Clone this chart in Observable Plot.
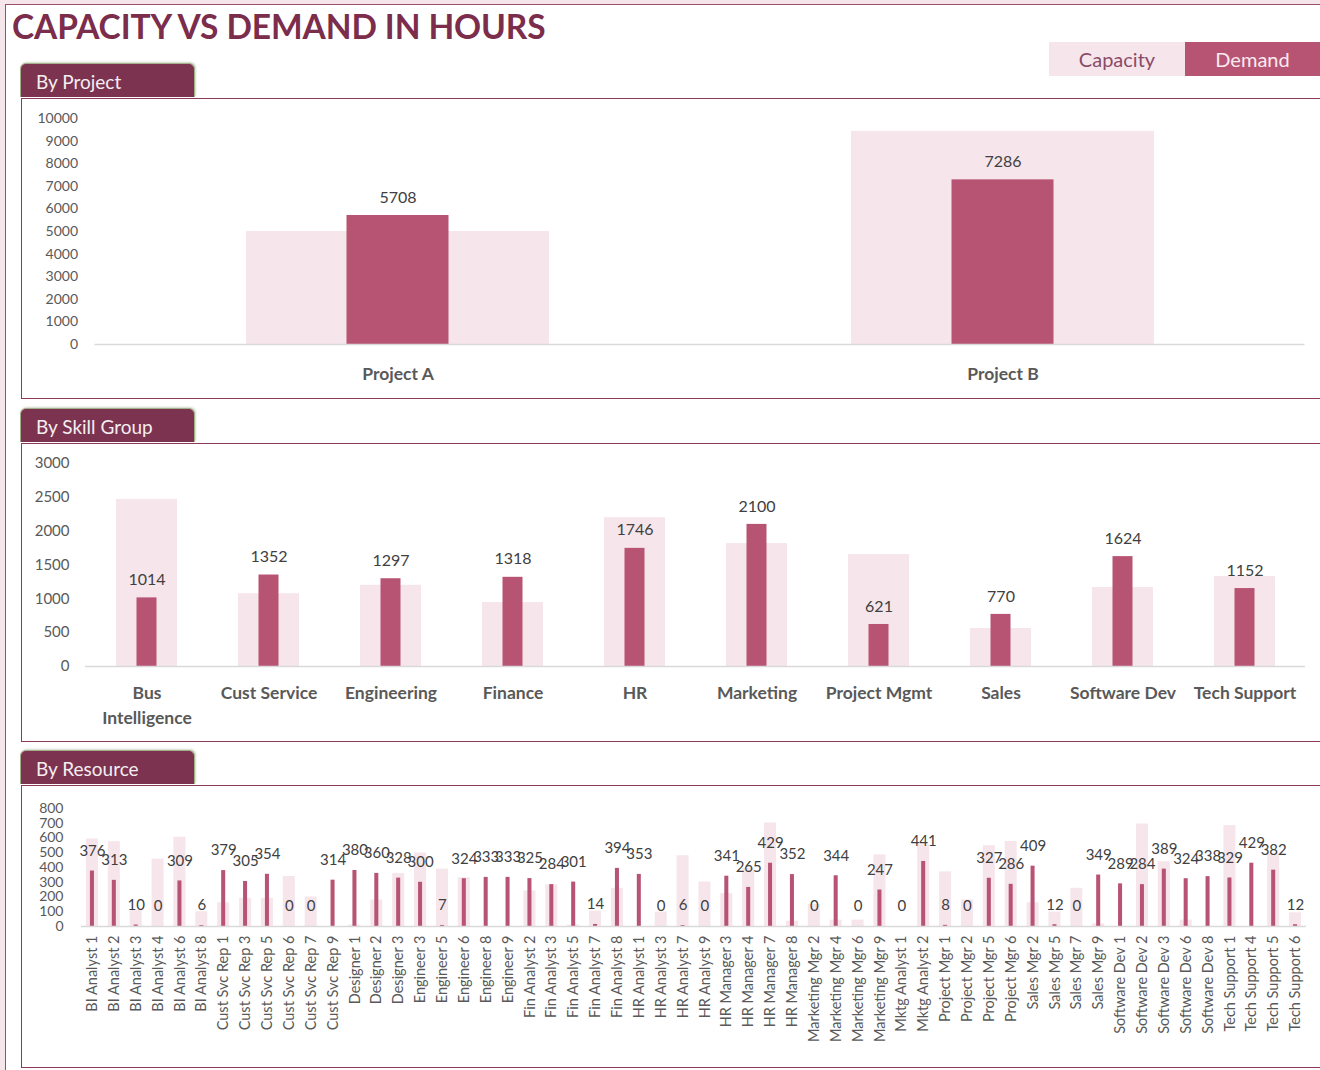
<!DOCTYPE html>
<html>
<head>
<meta charset="utf-8">
<script src="https://cdn.jsdelivr.net/npm/d3@7"></script>
<script src="https://cdn.jsdelivr.net/npm/@observablehq/plot@0.6"></script>
<style>
  html, body { margin: 0; padding: 0; }
  body { background: #f5e6ec; font-family: Lato, "Open Sans", sans-serif; }
  #root { position: relative; width: 1320px; height: 1070px; overflow: hidden; }
  #sheet { position: absolute; left: 5px; top: 4px; width: 1330px; height: 1080px; background: #fff;
           border-left: 1.5px solid #9a4f6d; border-top: 1.5px solid #9a4f6d; }
  #title { position: absolute; left: 12px; top: 6px; font-size: 33.5px; font-weight: 700; color: #7b2d4b; letter-spacing: -0.1px; white-space: nowrap; }
  .legend { position: absolute; top: 42px; height: 34px; line-height: 34px; font-size: 20px; text-align: center; }
  .box { position: absolute; left: 21px; width: 1320px; border: 1.5px solid #8b3a5a; border-right: none; background: #fff; }
  .tab { position: absolute; left: 20px; width: 175px; height: 34px; background: #7b3350; color: #f4eef0;
         border: 1.5px solid #a3b08c; border-bottom: none; border-radius: 6px 6px 0 0; font-size: 19px; line-height: 35px; box-sizing: border-box;
         box-shadow: 1px -1px 2px rgba(120,140,100,0.35); }
  .tab span { position: absolute; left: 15px; }
  .plot { position: absolute; left: 0; }
</style>
</head>
<body>
<div id="root">
  <div id="sheet"></div>
  <div id="title">CAPACITY VS DEMAND IN HOURS</div>
  <div class="legend" style="left:1049px;width:136px;background:#f6e6ec;color:#8b4a66;">Capacity</div>
  <div class="legend" style="left:1185px;width:135px;background:#b85473;color:#f8eaf0;">Demand</div>

  <div class="box" style="top:98px;height:299px;"></div>
  <div class="tab" style="top:63px;"><span>By Project</span></div>
  <div class="box" style="top:443px;height:297px;"></div>
  <div class="tab" style="top:408px;"><span>By Skill Group</span></div>
  <div class="box" style="top:785px;height:281px;"></div>
  <div class="tab" style="top:750px;"><span>By Resource</span></div>

  <div id="p1" class="plot" style="top:98px;"></div>
  <div id="p2" class="plot" style="top:443px;"></div>
  <div id="p3" class="plot" style="top:785px;"></div>
</div>
<script>
// ---------- DATA ----------
const projects = ["Project A", "Project B"];
const projectCapacity = [5000, 9430];
const projectDemand = [5708, 7286];
const projectTicks = [0, 1000, 2000, 3000, 4000, 5000, 6000, 7000, 8000, 9000, 10000];

const skillGroups = ["Bus Intelligence", "Cust Service", "Engineering", "Finance", "HR",
  "Marketing", "Project Mgmt", "Sales", "Software Dev", "Tech Support"];
const skillCapacity = [2470, 1075, 1200, 945, 2200, 1817, 1654, 561, 1167, 1329];
const skillDemand = [1014, 1352, 1297, 1318, 1746, 2100, 621, 770, 1624, 1152];
const skillTicks = [0, 500, 1000, 1500, 2000, 2500, 3000];

const resources = [
  "BI Analyst 1", "BI Analyst 2", "BI Analyst 3", "BI Analyst 4", "BI Analyst 6", "BI Analyst 8",
  "Cust Svc Rep 1", "Cust Svc Rep 3", "Cust Svc Rep 5", "Cust Svc Rep 6", "Cust Svc Rep 7", "Cust Svc Rep 9",
  "Designer 1", "Designer 2", "Designer 3",
  "Engineer 3", "Engineer 5", "Engineer 6", "Engineer 8", "Engineer 9",
  "Fin Analyst 2", "Fin Analyst 3", "Fin Analyst 5", "Fin Analyst 7", "Fin Analyst 8",
  "HR Analyst 1", "HR Analyst 3", "HR Analyst 7", "HR Analyst 9",
  "HR Manager 3", "HR Manager 4", "HR Manager 7", "HR Manager 8",
  "Marketing Mgr 2", "Marketing Mgr 4", "Marketing Mgr 6", "Marketing Mgr 9",
  "Mktg Analyst 1", "Mktg Analyst 2",
  "Project Mgr 1", "Project Mgr 2", "Project Mgr 5", "Project Mgr 6",
  "Sales Mgr 2", "Sales Mgr 5", "Sales Mgr 7", "Sales Mgr 9",
  "Software Dev 1", "Software Dev 2", "Software Dev 3", "Software Dev 6", "Software Dev 8",
  "Tech Support 1", "Tech Support 4", "Tech Support 5", "Tech Support 6"
];
const resourceCapacity = [
  593, 575, 110, 457, 605, 100,
  161, 191, 191, 339, 200, 0,
  10, 180, 359,
  498, 389, 330, 0, 0,
  241, 282, 10, 105, 259,
  0, 98, 480, 302,
  223, 395, 702, 36,
  150, 43, 43, 486,
  0, 555,
  370, 180, 548, 577,
  161, 98, 259, 18,
  0, 695, 439, 43, 0,
  684, 0, 491, 93
];
const resourceDemand = [
  376, 313, 10, 0, 309, 6,
  379, 305, 354, 0, 0, 314,
  380, 360, 328,
  300, 7, 324, 333, 333,
  325, 284, 301, 14, 394,
  353, 0, 6, 0,
  341, 265, 429, 352,
  0, 344, 0, 247,
  0, 441,
  8, 0, 327, 286,
  409, 12, 0, 349,
  289, 284, 389, 324, 338,
  329, 429, 382, 12
];
const resourceTicks = [0, 100, 200, 300, 400, 500, 600, 700, 800];

// ---------- STYLE ----------
const capColor = "#f6e6ec";
const demColor = "#b85473";

function panel(el, o) {
  const rows = o.names.map((n, i) => ({name: n, cap: o.cap[i], dem: o.dem[i]}));
  const chart = Plot.plot({
    width: 1320,
    height: o.height,
    marginTop: o.marginTop,
    marginBottom: o.marginBottom,
    marginLeft: o.marginLeft,
    marginRight: o.marginRight,
    style: {fontFamily: "Lato, 'Open Sans', sans-serif", background: "transparent", color: "#595959", overflow: "visible"},
    x: {domain: o.names, paddingInner: o.paddingInner, paddingOuter: o.paddingOuter, label: null, axis: null},
    y: {domain: o.yDomain, label: null, axis: null},
    marks: [
      Plot.barY(rows, {x: "name", y: "cap", fill: capColor}),
      Plot.barY(rows, {x: "name", y: "dem", fill: demColor, insetLeft: o.inset, insetRight: o.inset}),
      Plot.ruleY([0], {stroke: "#d9d9d9", strokeWidth: 1.5}),
      Plot.text(rows, {x: "name", y: "dem", text: d => String(d.dem), dy: o.labelDy, fill: "#404040", fontSize: o.valueFont}),
      Plot.axisY({ticks: o.yTicks, tickSize: 0, tickPadding: o.yPad, fontSize: o.yFont, label: null, tickFormat: d => String(d)}),
      Plot.axisX(Object.assign({tickSize: 0, label: null}, o.xAxis))
    ]
  });
  document.getElementById(el).appendChild(chart);
}

panel("p1", {
  names: projects, cap: projectCapacity, dem: projectDemand,
  height: 298, marginTop: 20, marginBottom: 52, marginLeft: 94.5, marginRight: 15.5,
  paddingInner: 0.5, paddingOuter: 0.25, inset: 100.5,
  yDomain: [0, 10000], yTicks: projectTicks, yPad: 17, yFont: 14,
  valueFont: 16, labelDy: -18,
  xAxis: {tickPadding: 23, fontSize: 17.5, fontWeight: "bold"}
});

panel("p2", {
  names: skillGroups, cap: skillCapacity, dem: skillDemand,
  height: 296, marginTop: 20, marginBottom: 73, marginLeft: 85, marginRight: 15,
  paddingInner: 0.5, paddingOuter: 0.25, inset: 20.5,
  yDomain: [0, 3000], yTicks: skillTicks, yPad: 16, yFont: 15,
  valueFont: 16, labelDy: -18,
  xAxis: {tickPadding: 14, fontSize: 17.5, fontWeight: "bold", lineHeight: 1.45,
          tickFormat: d => d === "Bus Intelligence" ? "Bus\nIntelligence" : d}
});

panel("p3", {
  names: resources, cap: resourceCapacity, dem: resourceDemand,
  height: 283, marginTop: 23, marginBottom: 142, marginLeft: 81, marginRight: 14,
  paddingInner: 0.45, paddingOuter: 0.225, inset: 4,
  yDomain: [0, 800], yTicks: resourceTicks, yPad: 18, yFont: 14,
  valueFont: 15, labelDy: -20,
  xAxis: {tickRotate: -90, tickPadding: 9, fontSize: 14.5}
});
</script>
</body>
</html>
